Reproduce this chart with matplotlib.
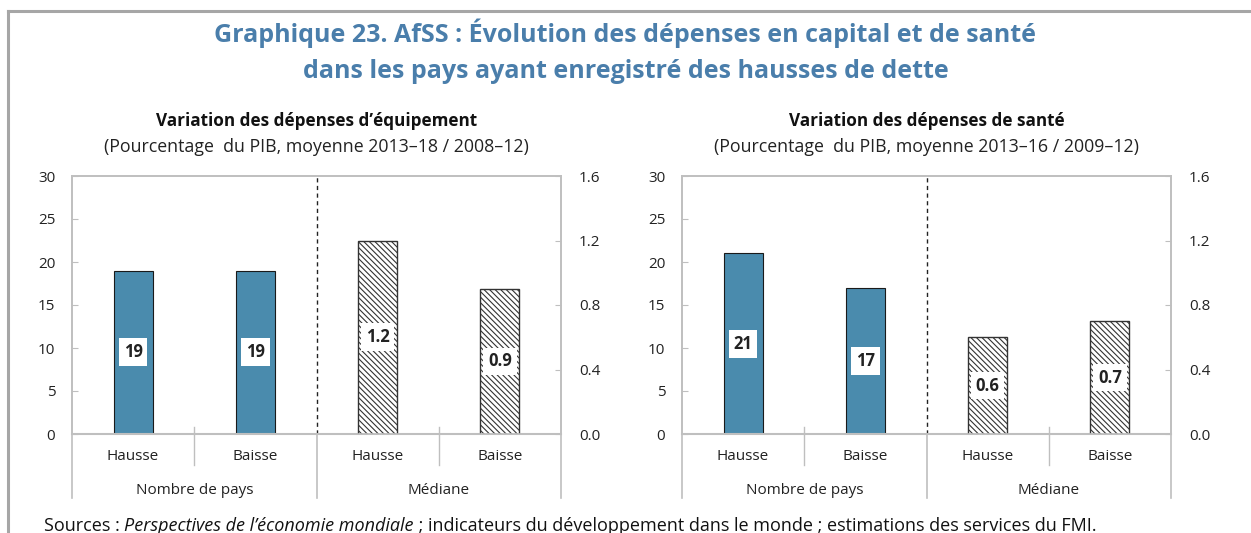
import matplotlib.pyplot as plt
from matplotlib.lines import Line2D
from matplotlib import transforms

plt.rcParams['font.family'] = ['Open Sans', 'DejaVu Sans']
plt.rcParams['hatch.linewidth'] = 0.8

# données
categories = ['Hausse', 'Baisse', 'Hausse', 'Baisse']
groups = ['Nombre de pays', 'Médiane']

equip_count = [19, 19]
equip_median = [1.2, 0.9]
sante_count = [21, 17]
sante_median = [0.6, 0.7]

left_ticks = [0, 5, 10, 15, 20, 25, 30]
right_ticks = [0.0, 0.4, 0.8, 1.2, 1.6]

title_txt = ("Graphique 23. AfSS : Évolution des dépenses en capital et de santé\n"
             "dans les pays ayant enregistré des hausses de dette")
panel_titles = ["Variation des dépenses d’équipement", "Variation des dépenses de santé"]
panel_subtitles = ["(Pourcentage  du PIB, moyenne 2013–18 / 2008–12)",
                   "(Pourcentage  du PIB, moyenne 2013–16 / 2009–12)"]

BLUE = '#4a8bad'
TITLE_BLUE = '#4a7eab'
GRID = '#bfbfbf'

W, H = 1251, 533
fig = plt.figure(figsize=(W / 100, H / 100), dpi=100)

# cadre gris en haut et à gauche
fig.add_artist(Line2D([8 / W, 1], [1 - 11 / H, 1 - 11 / H], color='#a6a6a6', lw=2.2,
                      transform=fig.transFigure))
fig.add_artist(Line2D([8 / W, 8 / W], [0, 1 - 11 / H], color='#a6a6a6', lw=2.2,
                      transform=fig.transFigure))

fig.text(0.5, 1 - 51 / H, title_txt, ha='center', va='center', fontsize=18,
         fontweight='bold', color=TITLE_BLUE, linespacing=1.6)


def draw_panel(left_px, counts, medians, title, subtitle):
    ax = fig.add_axes([left_px / W, 1 - 434 / H, 489 / W, 258 / H])
    ax2 = ax.twinx()
    x = range(len(categories))

    ax.bar([0, 1], counts, width=0.32, color=BLUE, edgecolor='#1a1a1a', lw=0.8, zorder=2)
    ax2.bar([2, 3], medians, width=0.32, color='white', edgecolor='#333333', lw=1.0,
            hatch='\\\\\\\\\\\\', zorder=2)

    for xi, v in zip([0, 1], counts):
        ax.text(xi, v / 2, str(v), ha='center', va='center', fontsize=12,
                fontweight='bold', color='#222222',
                bbox=dict(facecolor='white', edgecolor='none', pad=3.5))
    for xi, v in zip([2, 3], medians):
        ax2.text(xi, v / 2, f"{v:.1f}", ha='center', va='center', fontsize=12,
                 fontweight='bold', color='#222222',
                 bbox=dict(facecolor='white', edgecolor='none', pad=3.5))

    ax.set_xlim(-0.5, 3.5)
    ax.set_ylim(0, 30)
    ax2.set_ylim(0, 1.6)
    ax.set_yticks(left_ticks)
    ax2.set_yticks(right_ticks)
    ax2.set_yticklabels([f"{t:.1f}" for t in right_ticks])
    ax.set_xticks([])

    for a in (ax, ax2):
        for s in a.spines.values():
            s.set_color(GRID)
            s.set_linewidth(1.2)
        a.tick_params(axis='y', direction='in', length=4, color=GRID, labelsize=11,
                      labelcolor='#222222')
    ax.tick_params(axis='y', pad=12)
    ax2.tick_params(axis='y', pad=13)
    ax.spines['bottom'].set_linewidth(1.5)

    # ligne pointillée entre les groupes
    ax.axvline(1.5, color='#222222', ls=(0, (3, 2.5)), lw=1, zorder=1)

    # axe des catégories en bas
    trans = transforms.blended_transform_factory(ax.transData, ax.transAxes)
    for xi, c in zip(x, categories):
        ax.text(xi, -0.087, c, transform=trans, ha='center', va='center', fontsize=11,
                color='#222222')
    for gi, g in enumerate(groups):
        ax.text(0.5 + 2 * gi, -0.219, g, transform=trans, ha='center', va='center',
                fontsize=11, color='#222222')
    for xs in [0.5, 2.5]:
        ax.add_line(Line2D([xs, xs], [0.027, -0.12], transform=trans, color=GRID, lw=1,
                           clip_on=False))
    for xs in [-0.5, 1.5, 3.5]:
        ax.add_line(Line2D([xs, xs], [0, -0.248], transform=trans, color=GRID, lw=1.2,
                           clip_on=False))

    ax.text(0.5, 1.214, title, transform=ax.transAxes, ha='center', va='center',
            fontsize=12.3, fontweight='bold', color='#111111')
    ax.text(0.5, 1.112, subtitle, transform=ax.transAxes, ha='center', va='center',
            fontsize=12.8, color='#222222')
    return ax


draw_panel(72, equip_count, equip_median, panel_titles[0], panel_subtitles[0])
draw_panel(682, sante_count, sante_median, panel_titles[1], panel_subtitles[1])

# ligne des sources, avec une partie en italique
fig.canvas.draw()
renderer = fig.canvas.get_renderer()
parts = [("Sources : ", 'normal'),
         ("Perspectives de l’économie mondiale", 'italic'),
         (" ; indicateurs du développement dans le monde ; estimations des services du FMI.",
          'normal')]
xpos = 44 / W
for txt, style in parts:
    t = fig.text(xpos, 1 - 526 / H, txt, ha='left', va='center', fontsize=13,
                 style=style, color='#111111')
    bb = t.get_window_extent(renderer)
    xpos += bb.width / W

fig.savefig('out.png', dpi=100)
